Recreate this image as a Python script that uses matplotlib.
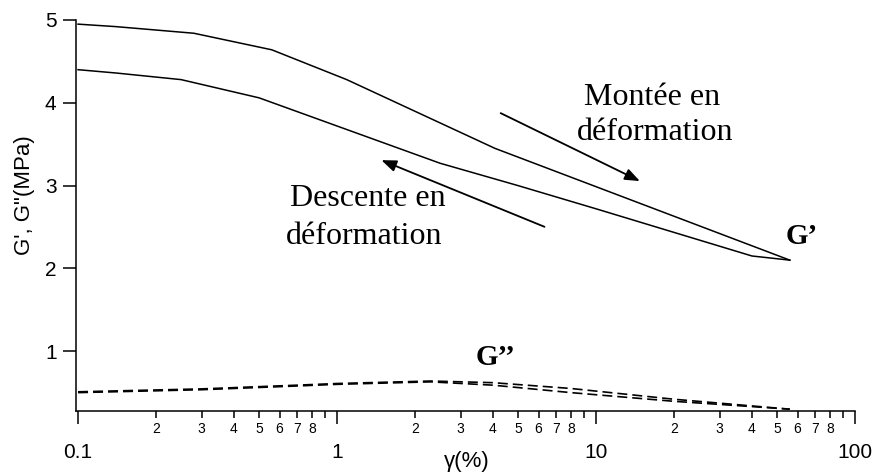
import numpy as np
import matplotlib.pyplot as plt
from matplotlib.ticker import FixedLocator, NullFormatter

# G' en montée (balayage croissant)
x_up = [0.1, 0.14, 0.28, 0.56, 1.09, 4.07, 9.2, 56]
g1_up = [4.95, 4.92, 4.84, 4.64, 4.28, 3.45, 3.03, 2.10]

# G' en descente
x_down = [0.1, 0.14, 0.25, 0.5, 2.5, 5, 10, 40, 56]
g1_down = [4.40, 4.36, 4.28, 4.06, 3.27, 3.00, 2.72, 2.15, 2.10]

# G'' montée / descente
x_g2 = [0.1, 0.3, 0.7, 1, 2.3, 4, 8, 20, 56]
g2_up = [0.51, 0.545, 0.59, 0.61, 0.64, 0.62, 0.55, 0.42, 0.30]
g2_down = [0.50, 0.535, 0.58, 0.60, 0.63, 0.59, 0.50, 0.395, 0.30]

major_ticks = [0.1, 1, 10, 100]
major_labels = ["0.1", "1", "10", "100"]
y_ticks = [1, 2, 3, 4, 5]

SANS = "Liberation Sans"
SERIF = "Liberation Serif"

fig = plt.figure(figsize=(8.74, 4.73), dpi=100)
ax = fig.add_axes([76 / 874, 1 - 411 / 473, (855 - 76) / 874, (411 - 20) / 473])

ax.plot(x_up, g1_up, color="black", lw=1.1)
ax.plot(x_down, g1_down, color="black", lw=1.1)
ax.plot(x_g2, g2_up, color="black", lw=1.2, dashes=(6, 3))
ax.plot(x_g2, g2_down, color="black", lw=1.2, dashes=(6, 3))

ax.set_xscale("log")
ax.set_xlim(0.0982, 100)
ax.set_ylim(0.278, 5)

for s in ["top", "right"]:
    ax.spines[s].set_visible(False)
ax.spines["left"].set_linewidth(1.1)
ax.spines["bottom"].set_linewidth(1.1)

# ticks x : majeurs + mineurs numérotés 2..8
ax.xaxis.set_major_locator(FixedLocator(major_ticks))
ax.set_xticklabels(major_labels, fontfamily=SANS, fontsize=15)
minor = [m * d for d in [0.1, 1, 10] for m in range(2, 10)]
ax.xaxis.set_minor_locator(FixedLocator(minor))
ax.xaxis.set_minor_formatter(NullFormatter())
ax.tick_params(axis="x", which="major", direction="out", length=9, width=1.1, pad=14)
ax.tick_params(axis="x", which="minor", direction="out", length=5, width=1.1, pad=3)
for v in minor:
    m = int(round(v / 10 ** np.floor(np.log10(v) + 1e-9)))
    if m != 9:
        ax.text(v, -0.028, str(m), transform=ax.get_xaxis_transform(),
                ha="center", va="top", fontsize=10, fontfamily=SANS)

ax.set_yticks(y_ticks)
ax.set_yticklabels([str(v) for v in y_ticks], fontfamily=SANS, fontsize=15)
ax.tick_params(axis="y", direction="out", length=9.5, width=1.1, pad=4.5)

ax.set_xlabel("\u03b3(%)", fontfamily=SANS, fontsize=16)
ax.xaxis.set_label_coords(0.502, -0.103)
ax.set_ylabel("G', G\"(MPa)", fontfamily=SANS, fontsize=16)
ax.yaxis.set_label_coords(-0.053, 0.552)

# flèches
arrow = dict(arrowstyle="-|>,head_length=0.9,head_width=0.35", color="black", lw=1.3)
ax.annotate("", xy=(15.1, 3.04), xytext=(4.19, 3.89), arrowprops=arrow)
ax.annotate("", xy=(1.45, 3.32), xytext=(6.47, 2.49), arrowprops=arrow)

# textes
ax.text(16.4, 4.06, "Mont\u00e9e en", ha="center", va="center",
        fontfamily=SERIF, fontsize=23)
ax.text(16.9, 3.64, "d\u00e9formation", ha="center", va="center",
        fontfamily=SERIF, fontsize=23)
ax.text(1.31, 2.85, "Descente en", ha="center", va="center",
        fontfamily=SERIF, fontsize=23)
ax.text(1.27, 2.39, "d\u00e9formation", ha="center", va="center",
        fontfamily=SERIF, fontsize=23)
ax.text(62.4, 2.38, "G\u2019", ha="center", va="center",
        fontfamily=SERIF, fontsize=21, fontweight="bold")
ax.text(4.11, 0.93, "G\u2019\u2019", ha="center", va="center",
        fontfamily=SERIF, fontsize=21, fontweight="bold")

fig.savefig("out.png", dpi=100)
